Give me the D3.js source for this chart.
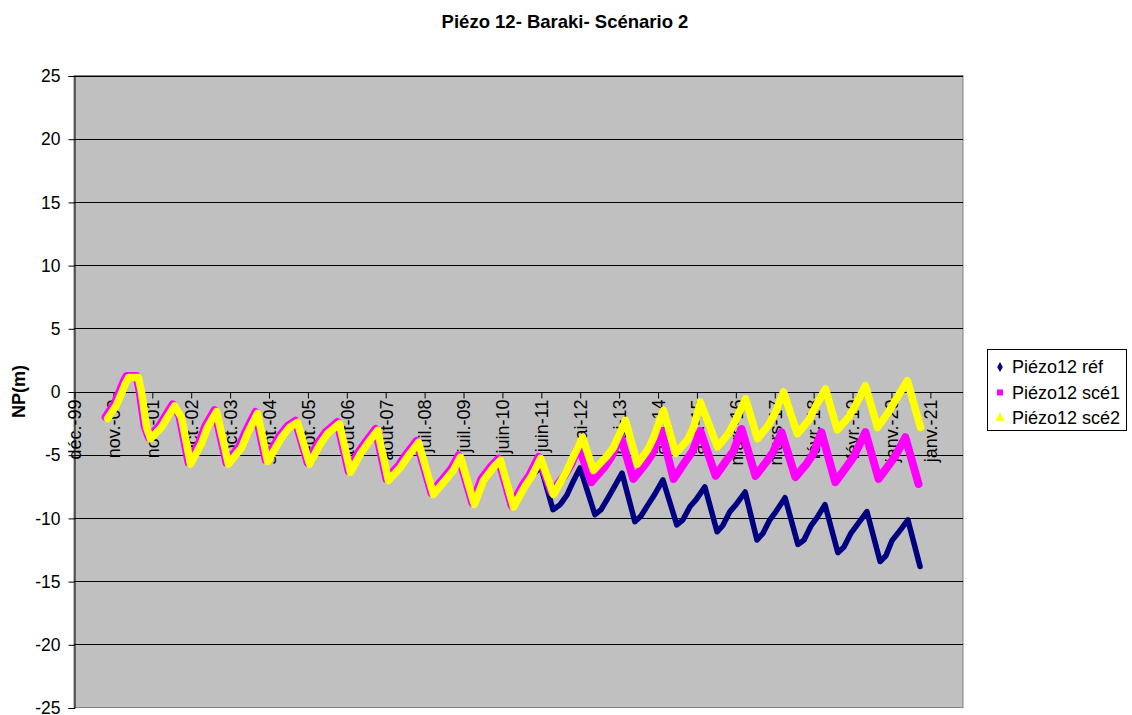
<!DOCTYPE html>
<html>
<head>
<meta charset="utf-8">
<script src="https://cdn.jsdelivr.net/npm/d3@7"></script>
<style>
  body { margin: 0; background: #fff; }
  text { font-family: Arial, "Liberation Sans", sans-serif; }
</style>
</head>
<body>
<svg id="chart" width="1132" height="715"></svg>
<script>
// Water level NP(m) of piezometer 12 (Baraki), x in months counted from déc.-99.

// Category-axis labels and their positions (months from déc.-99)
const tickLabels = ["déc.-99", "nov.-00", "nov.-01", "oct.-02", "oct.-03", "sept.-04", "sept.-05",
  "août-06", "août-07", "juil.-08", "juil.-09", "juin-10", "juin-11", "mai-12", "mai-13",
  "avr.-14", "avr.-15", "mars-16", "mars-17", "févr.-18", "févr.-19", "janv.-20", "janv.-21"];
const tickMonths = [0, 11.5, 23, 34.5, 46, 57.5, 69, 80.5, 92, 103.5, 115, 126.5, 138,
  149.5, 161, 172.5, 184, 195.5, 207, 218.5, 230, 241.5, 253];
const yTicks = [-25, -20, -15, -10, -5, 0, 5, 10, 15, 20, 25];

// Common history (2000 – mid-2011), identical for the three runs
const histMonth = [9.8, 12.4, 13.9, 15.1, 16.0, 18.9, 19.8, 21.3, 22.5,
  25.7, 27.5, 29.6, 31.6, 34.3,
  37.5, 39.3, 42.0, 45.5,
  49.4, 51.1, 54.1, 57.1,
  61.2, 63.6, 65.9, 69.5,
  72.7, 74.8, 78.3, 81.6,
  84.5, 86.6, 89.6, 92.8,
  96.4, 98.4, 101.7, 106.1,
  110.3, 112.0, 114.1, 118.2,
  120.9, 123.9, 125.9, 129.8,
  133.3, 135.1];
const histLevel = [-2.1, -1.05, -0.1, 0.7, 1.15, 1.15, 0.0, -2.8, -3.7,
  -2.8, -2.0, -1.1, -2.0, -5.7,
  -4.1, -2.8, -1.55, -5.7,
  -4.4, -3.3, -1.7, -5.5,
  -3.6, -2.8, -2.4, -5.7,
  -4.1, -3.3, -2.5, -6.35,
  -4.9, -4.1, -3.05, -7.0,
  -5.95, -5.15, -4.0, -8.1,
  -6.75, -6.2, -5.15, -8.9,
  -7.0, -5.95, -5.4, -9.1,
  -7.4, -6.7];

// Piézo12 réf
const refMonth = [138.0,
  141.6, 143.7, 145.7, 147.5, 149.6,
  154.0, 155.8, 157.9, 159.6, 162.0,
  165.8, 167.6, 169.7, 171.4, 174.1,
  178.2, 180.0, 182.1, 183.9, 186.5,
  190.1, 191.8, 193.9, 195.7, 198.4,
  201.9, 203.7, 205.7, 207.5, 210.2,
  214.0, 215.8, 217.9, 219.6, 222.0,
  225.8, 227.6, 229.7, 231.5, 234.4,
  238.3, 240.0, 241.8, 243.6, 246.5,
  250.1];
const refLevel = [-5.95,
  -9.35, -8.95, -8.2, -7.15, -6.05,
  -9.75, -9.35, -8.4, -7.6, -6.45,
  -10.3, -9.85, -8.95, -8.25, -7.0,
  -10.55, -10.15, -9.1, -8.55, -7.55,
  -11.1, -10.6, -9.5, -8.95, -7.95,
  -11.75, -11.2, -10.15, -9.5, -8.4,
  -12.1, -11.75, -10.6, -10.0, -8.95,
  -12.75, -12.3, -11.2, -10.55, -9.5,
  -13.45, -13.0, -11.8, -11.2, -10.15,
  -13.85];

// Piézo12 scé1
const sce1Month = [137.8,
  141.6, 145.4, 147.5, 149.6,
  153.4, 157.3, 159.3, 162.0,
  165.8, 169.4, 171.4, 174.1,
  177.7, 181.2, 183.3, 185.6,
  190.1, 193.3, 195.4, 197.8,
  201.9, 205.1, 207.2, 209.6,
  213.7, 217.0, 219.0, 221.4,
  225.5, 228.8, 230.9, 234.4,
  238.3, 241.2, 243.3, 246.2,
  250.1];
const sce1Level = [-5.25,
  -8.05, -6.75, -5.8, -4.4,
  -7.25, -6.05, -5.25, -3.6,
  -7.0, -5.8, -5.0, -3.2,
  -7.0, -5.6, -4.8, -3.2,
  -6.75, -5.55, -4.8, -3.05,
  -6.75, -5.65, -4.85, -3.3,
  -6.85, -5.8, -5.0, -3.3,
  -7.25, -6.05, -5.25, -3.3,
  -7.0, -5.95, -5.15, -3.7,
  -7.4];

// Piézo12 scé2
const sce2Month = [137.8,
  141.6, 145.4, 147.5, 150.2,
  153.4, 157.3, 159.3, 162.9,
  166.4, 169.4, 171.2, 174.1,
  177.7, 181.2, 183.0, 185.0,
  190.1, 193.3, 195.4, 198.4,
  201.9, 205.1, 207.2, 209.6,
  213.7, 217.0, 219.0, 222.0,
  225.5, 228.8, 230.9, 233.8,
  237.4, 240.6, 242.7, 246.2,
  250.1];
const sce2Level = [-5.25,
  -8.1, -6.3, -5.1, -3.6,
  -6.2, -5.1, -4.4, -2.25,
  -5.7, -4.6, -3.6, -1.45,
  -4.85, -3.8, -2.8, -0.8,
  -4.35, -3.3, -2.25, -0.55,
  -3.7, -2.65, -1.6, 0.0,
  -3.3, -2.25, -1.2, 0.25,
  -3.0, -2.0, -1.05, 0.5,
  -2.8, -1.6, -0.65, 0.9,
  -2.8];

const seriesNames = ["Piézo12 réf", "Piézo12 scé1", "Piézo12 scé2"];
const seriesColors = ["#000080", "#FF00FF", "#FFFF00"];

const toPoints = (ms, ls) => ms.map((m, i) => ({ m, v: ls[i] }));
const history = toPoints(histMonth, histLevel);
const series = [
  history.concat(toPoints(refMonth, refLevel)),
  history.concat(toPoints(sce1Month, sce1Level)),
  history.concat(toPoints(sce2Month, sce2Level))
];

// Layout
const plot = { left: 74, top: 75.5, right: 963, bottom: 707.5 };
const FONT = "Arial, 'Liberation Sans', sans-serif";

const svg = d3.select("#chart");

const x = d3.scaleLinear().domain([0, 262.8]).range([plot.left, plot.right]);
const y = d3.scaleLinear().domain([-25, 25]).range([plot.bottom, plot.top]);

// Title
svg.append("text")
  .attr("x", 565).attr("y", 28)
  .attr("text-anchor", "middle")
  .attr("font-size", "18.5px").attr("font-weight", "bold")
  .text("Piézo 12- Baraki- Scénario 2");

// Plot background
svg.append("rect")
  .attr("x", plot.left).attr("y", plot.top)
  .attr("width", plot.right - plot.left).attr("height", plot.bottom - plot.top)
  .attr("fill", "#C0C0C0").attr("stroke", "#808080").attr("stroke-width", 1);

// Horizontal gridlines
svg.append("g").selectAll("line").data(yTicks.filter(t => t !== -25)).join("line")
  .attr("x1", plot.left).attr("x2", plot.right)
  .attr("y1", d => Math.round(y(d)) + 0.5).attr("y2", d => Math.round(y(d)) + 0.5)
  .attr("stroke", "#000").attr("stroke-width", 1);

// Value axis (plain hyphen for negatives)
const yAxis = d3.axisLeft(y).tickValues(yTicks).tickSize(6).tickPadding(8)
  .tickFormat(d => String(d));
const gy = svg.append("g").attr("transform", `translate(${plot.left + 0.5},0.5)`).call(yAxis);
gy.select(".domain").attr("stroke", "#000");
gy.selectAll(".tick line").attr("stroke", "#000");
gy.selectAll(".tick text")
  .attr("font-size", "17.5px").attr("fill", "#000")
  .attr("font-family", FONT)
  .attr("dy", "0.33em");

// Category axis along the zero line
const xAxis = d3.axisBottom(x).tickValues(tickMonths).tickSize(6)
  .tickFormat((d, i) => tickLabels[i]);
const gx = svg.append("g").attr("transform", `translate(0.5,${Math.round(y(0)) + 0.5})`).call(xAxis);
gx.select(".domain").remove();
gx.selectAll(".tick line").attr("stroke", "#000");
gx.selectAll(".tick text")
  .attr("font-size", "18px").attr("fill", "#000")
  .attr("font-family", FONT)
  .attr("text-anchor", "end")
  .attr("transform", "rotate(-90)")
  .attr("x", -7).attr("y", 0).attr("dy", "0.35em");

// Y axis title
svg.append("text")
  .attr("transform", `translate(25,${y(0)}) rotate(-90)`)
  .attr("text-anchor", "middle")
  .attr("font-size", "18px").attr("font-weight", "bold")
  .text("NP(m)");

// Series lines (drawn in order, last on top)
const line = d3.line().x(d => x(d.m)).y(d => y(d.v));
const widths = [5.5, 8, 7.5];
const offsets = [[0, 0], [-1.5, -1], [0.5, 0.5]];
series.forEach((pts, i) => {
  svg.append("path")
    .datum(pts)
    .attr("transform", `translate(${offsets[i][0]},${offsets[i][1]})`)
    .attr("d", line)
    .attr("fill", "none")
    .attr("stroke", seriesColors[i])
    .attr("stroke-width", widths[i])
    .attr("stroke-linejoin", "round")
    .attr("stroke-linecap", "round");
});

// Legend
const lg = svg.append("g");
lg.append("rect")
  .attr("x", 987.5).attr("y", 349.5).attr("width", 139).attr("height", 81)
  .attr("fill", "#fff").attr("stroke", "#000").attr("stroke-width", 1);
const rowY = [367, 392.5, 418];
const symbols = [d3.symbolDiamond, d3.symbolSquare, d3.symbolTriangle];
const symSizes = [28, 36, 40];
seriesNames.forEach((name, i) => {
  lg.append("path")
    .attr("transform", `translate(1000,${rowY[i]})`)
    .attr("d", d3.symbol().type(symbols[i]).size(symSizes[i]))
    .attr("fill", seriesColors[i]);
  lg.append("text")
    .attr("x", 1012).attr("y", rowY[i]).attr("dy", "0.35em")
    .attr("font-size", "18px")
    .text(name);
});
</script>
</body>
</html>
